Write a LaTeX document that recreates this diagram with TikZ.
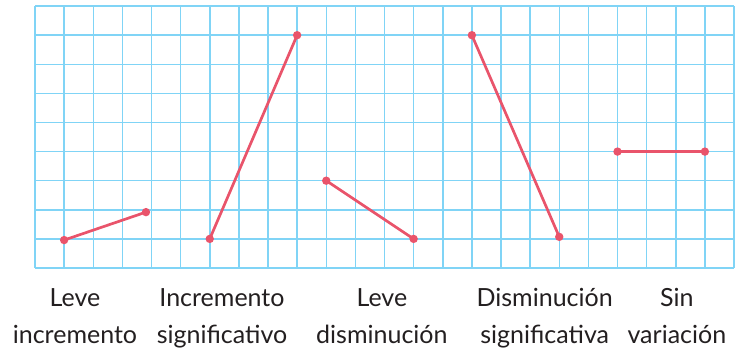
\documentclass[tikz,border=0pt]{standalone}
\usepackage{fontspec}
\setmainfont{Lato}
\definecolor{gridblue}{HTML}{80D4F6}
\definecolor{linepink}{HTML}{E9546B}
\definecolor{txt}{HTML}{231F20}
\begin{document}
\begin{tikzpicture}[x={(29.125pt,0)},y={(0,29.1pt)},
  gridline/.style={draw=gridblue,line width=1.5pt},
  seg/.style={draw=linepink,line width=2.7pt},
  dotmark/.style={fill=linepink},
  lbl/.style={anchor=base,inner sep=0pt,text=txt,font=\fontsize{25}{29}\selectfont}]
\useasboundingbox (-1.2017,-2.990) rectangle (24.206,9.2096);
\foreach \i in {0,...,24} \draw[gridline] (\i,0) -- (\i,9);
\foreach \j in {0,...,9} \draw[gridline] (0,\j) -- (24,\j);
\coordinate (a1) at (1,0.96); \coordinate (a2) at (3.81,1.92);
\coordinate (b1) at (6,1); \coordinate (b2) at (9,8);
\coordinate (c1) at (10,3); \coordinate (c2) at (13,1);
\coordinate (d1) at (15,8); \coordinate (d2) at (18,1.07);
\coordinate (e1) at (20,4); \coordinate (e2) at (23,4);
\foreach \p in {a,b,c,d,e} {
  \draw[seg] (\p1) -- (\p2);
  \fill[dotmark] (\p1) circle (4.2pt);
  \fill[dotmark] (\p2) circle (4.2pt);
}
\node[lbl] (l1a) at (1.372,-1.34) {Leve};
\node[lbl] (l1b) at (1.372,-2.61) {incremento};
\node[lbl] (l2a) at (6.42,-1.34) {Incremento};
\node[lbl] (l2b) at (6.42,-2.61) {significativo};
\node[lbl] (l3a) at (11.91,-1.34) {Leve};
\node[lbl] (l3b) at (11.91,-2.61) {disminución};
\node[lbl] (l4a) at (17.5,-1.34) {Disminución};
\node[lbl] (l4b) at (17.5,-2.61) {significativa};
\node[lbl] (l5a) at (22.04,-1.34) {Sin};
\node[lbl] (l5b) at (22.04,-2.61) {variación};
\end{tikzpicture}
\end{document}
